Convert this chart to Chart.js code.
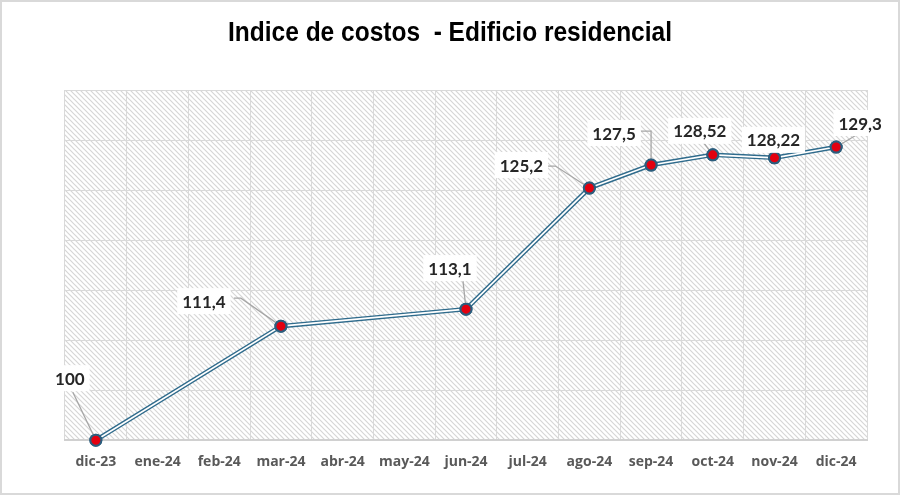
<!DOCTYPE html>
<html><head><meta charset="utf-8">
<script src="https://cdn.jsdelivr.net/npm/chart.js@4/dist/chart.umd.min.js"></script>
<style>html,body{margin:0;padding:0;background:#fff}#wrap{width:900px;height:497px;position:relative}</style>
</head><body><div id="wrap"><canvas id="c" width="900" height="497"></canvas></div>
<script>
const titleText = "Indice de costos  - Edificio residencial";
const categories = ["dic-23","ene-24","feb-24","mar-24","abr-24","may-24","jun-24","jul-24","ago-24","sep-24","oct-24","nov-24","dic-24"];
const indexValues = [100,null,null,111.4,null,null,113.1,null,125.2,127.5,128.52,128.22,129.3];
const valueLabels = ["100",null,null,"111,4",null,null,"113,1",null,"125,2","127,5","128,52","128,22","129,3"];
const yTicks = {min:100,max:135,step:5};

// label placement (pixels relative to point) and leader polylines (relative to point)
const labelOffsets = {0:[-26,-62],3:[-77,-25],6:[-16,-41],8:[-68,-23],9:[-37,-32],10:[-13,-24],11:[-1,-18],12:[24,-24]};
const leaders = {
  0:[[-23,-48],[0,0]],
  3:[[-47,-28],[-40,-28],[0,0]],
  6:[[-3,-28],[0,0]],
  8:[[-42,-22],[-34,-22],[0,0]],
  9:[[-10,-34],[0,-34],[0,-6]],
  10:[[-9,-12],[0,0]],
  12:[[27,-16],[0,0]]
};

const bgPlugin = {
  id:'bg',
  beforeDraw(chart){
    const {ctx, chartArea:a} = chart;
    ctx.save();
    ctx.fillStyle='#fff'; ctx.fillRect(0,0,chart.width,chart.height);
    ctx.strokeStyle='#d9d9d9'; ctx.lineWidth=2;
    ctx.strokeRect(1,1,chart.width-2,chart.height-4);
    const p=document.createElement('canvas'); p.width=5; p.height=5;
    const pc=p.getContext('2d');
    pc.strokeStyle='#d6d6d6'; pc.lineWidth=1.2;
    pc.beginPath(); pc.moveTo(-1,-1); pc.lineTo(6,6); pc.moveTo(-1,4); pc.lineTo(1,6); pc.moveTo(4,-1); pc.lineTo(6,1); pc.stroke();
    ctx.fillStyle=ctx.createPattern(p,'repeat');
    ctx.fillRect(a.left,a.top,a.right-a.left,a.bottom-a.top);
    ctx.fillStyle='#000';
    ctx.font='bold 28px "Liberation Sans", Arial, sans-serif';
    ctx.textAlign='center'; ctx.textBaseline='middle';
    const tw=ctx.measureText(titleText).width;
    const sx=444/tw;
    ctx.translate(450,33); ctx.scale(sx,1);
    ctx.fillText(titleText, 0, 0);
    ctx.restore();
  }
};

const labelPlugin = {
  id:'labels',
  afterDatasetsDraw(chart){
    const {ctx} = chart;
    const meta = chart.getDatasetMeta(0);
    ctx.save();
    ctx.strokeStyle='#a6a6a6'; ctx.lineWidth=1.3;
    meta.data.forEach((pt,i)=>{
      if(indexValues[i]==null || !leaders[i]) return;
      ctx.beginPath();
      leaders[i].forEach((o,k)=>{ const x=pt.x+o[0], y=pt.y+o[1]; k?ctx.lineTo(x,y):ctx.moveTo(x,y); });
      ctx.stroke();
    });
    meta.data.forEach((pt,i)=>{ if(indexValues[i]!=null) pt.draw(ctx); });
    ctx.font='bold 17px Lato, "Open Sans", sans-serif';
    ctx.textAlign='center'; ctx.textBaseline='middle';
    meta.data.forEach((pt,i)=>{
      if(indexValues[i]==null) return;
      const o=labelOffsets[i]||[0,-20];
      const x=pt.x+o[0], y=pt.y+o[1];
      const t=valueLabels[i];
      const w=ctx.measureText(t).width;
      ctx.fillStyle='#fff';
      ctx.fillRect(x-w/2-5,y-13,w+10,26);
      ctx.fillStyle='#262626';
      ctx.fillText(t,x,y+1);
    });
    ctx.restore();
  }
};

new Chart(document.getElementById('c'), {
  type:'line',
  data:{
    labels:categories,
    datasets:[
      {data:indexValues, showLine:false, clip:false,
       pointRadius:5.5, pointBackgroundColor:'#e3000f', pointBorderColor:'#2b5d7d', pointBorderWidth:2, order:0},
      {data:indexValues, borderColor:'#ffffff', borderWidth:1.6, spanGaps:true, tension:0, clip:false,
       pointRadius:0, order:1},
      {data:indexValues, borderColor:'#2f6b8c', borderWidth:4.5, spanGaps:true, tension:0, clip:false,
       pointRadius:0, order:2}
    ]
  },
  options:{
    responsive:false, animation:false,
    layout:{padding:{left:65,right:33,top:90,bottom:14}},
    plugins:{legend:{display:false}, title:{display:false}, tooltip:{enabled:false}},
    scales:{
      x:{offset:true,
         grid:{offset:true,color:'#d9d9d9',lineWidth:1,drawTicks:false},
         border:{color:'#d0d0d0',width:2},
         ticks:{color:'#595959',font:{family:'"Open Sans", Lato, sans-serif',weight:'bold',size:14},padding:13,maxRotation:0,autoSkip:false}},
      y:{min:yTicks.min,max:yTicks.max,
         ticks:{display:false,stepSize:yTicks.step},
         grid:{color:'#d9d9d9',lineWidth:1,drawTicks:false},
         border:{display:false}}
    }
  },
  plugins:[bgPlugin,labelPlugin]
});
</script></body></html>
